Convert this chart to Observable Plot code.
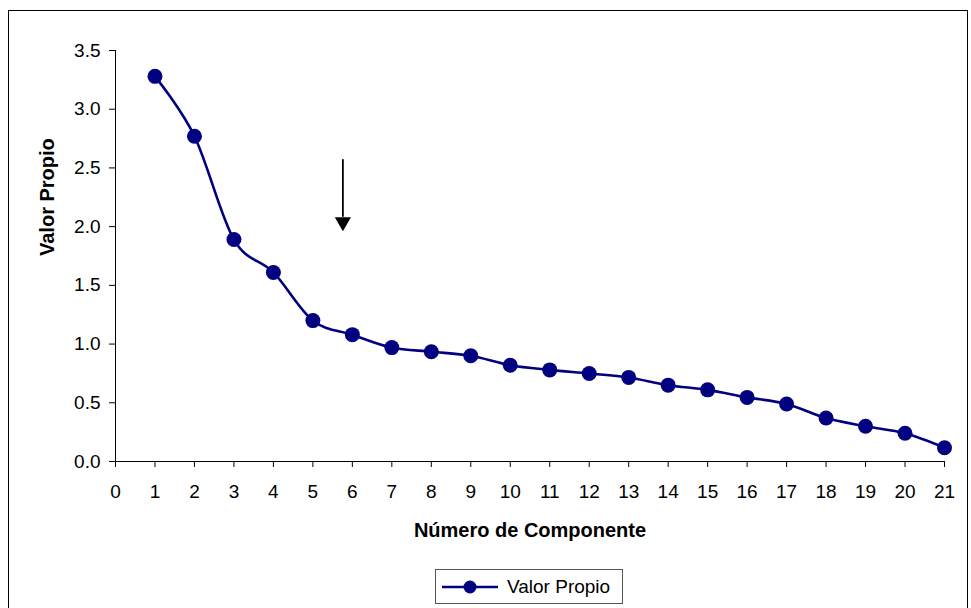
<!DOCTYPE html>
<html>
<head>
<meta charset="utf-8">
<script src="https://cdn.jsdelivr.net/npm/d3@7"></script>
<script src="https://cdn.jsdelivr.net/npm/@observablehq/plot@0.6"></script>
<style>
  html, body { margin: 0; padding: 0; background: #fff; }
  #wrap { position: relative; width: 971px; height: 608px; overflow: hidden; font-family: "Liberation Sans", Arial, sans-serif; }
  #frame { position: absolute; left: 8px; top: 10px; width: 960px; height: 640px; border: 1px solid #000; box-sizing: border-box; }
  #chart { position: absolute; left: 0; top: 0; }
  #legend { position: absolute; left: 435px; top: 569px; width: 188px; height: 35px; border: 1px solid #555; box-sizing: border-box; display: flex; align-items: center; background: #fff; }
  #legend span { font-size: 19px; color: #000; margin-left: 4px; }
</style>
</head>
<body>
<div id="wrap">
  <div id="frame"></div>
  <div id="chart"></div>
  <div id="legend">
    <svg width="62" height="20" style="margin-left:5px"><line x1="1" x2="57" y1="10" y2="10" stroke="#000080" stroke-width="2.5"/><circle cx="29" cy="10" r="6.5" fill="#000080"/></svg>
    <span>Valor Propio</span>
  </div>
</div>
<script>
const components = [1,2,3,4,5,6,7,8,9,10,11,12,13,14,15,16,17,18,19,20,21];
const eigenvalues = [3.28,2.77,1.89,1.61,1.20,1.08,0.97,0.935,0.90,0.82,0.78,0.75,0.716,0.65,0.61,0.546,0.49,0.37,0.30,0.24,0.117];
const xTicks = d3.range(0, 22);
const yTicks = [0,0.5,1.0,1.5,2.0,2.5,3.0,3.5];
const seriesName = "Valor Propio";
const xTitle = "Número de Componente";
const yTitle = "Valor Propio";
// arrow annotation (data coordinates)
const arrowX = [5.76];
const arrowTop = [2.57];
const arrowBase = [2.08];
const arrowHeadCenter = [2.04];

const data = components.map((c, i) => ({c, v: eigenvalues[i]}));
const arrow = arrowX.map((x, i) => ({x, y1: arrowTop[i], y2: arrowBase[i], yh: arrowHeadCenter[i]}));
const navy = "#000080";

const chart = Plot.plot({
  width: 971,
  height: 560,
  marginLeft: 115,
  marginRight: 27,
  marginTop: 50,
  marginBottom: 99,
  style: {fontFamily: "'Liberation Sans', Arial, sans-serif", fontSize: "19px", color: "#000", background: "transparent"},
  x: {domain: [0, 21], ticks: xTicks, label: null},
  y: {domain: [0, 3.5], ticks: yTicks, label: null},
  marks: [
    Plot.axisY({ticks: yTicks, tickFormat: d3.format(".1f"), tickSize: 6, tickPadding: 9, label: null, stroke: "#000", fontSize: 19}),
    Plot.axisX({ticks: xTicks, tickFormat: d3.format("d"), tickSize: 6, tickPadding: 17, label: null, stroke: "#000", fontSize: 19}),
    Plot.ruleX([0], {y1: 0, y2: 3.5, stroke: "#000"}),
    Plot.ruleY([0], {x1: 0, x2: 21, stroke: "#000"}),
    Plot.line(data, {x: "c", y: "v", stroke: navy, strokeWidth: 2.6, curve: "cardinal"}),
    Plot.dot(data, {x: "c", y: "v", r: 7.5, fill: navy, stroke: "none"}),
    Plot.ruleX(arrow, {x: "x", y1: "y1", y2: "y2", stroke: "#000", strokeWidth: 1.8}),
    Plot.dot(arrow, {x: "x", y: "yh", symbol: "triangle", rotate: 180, r: 6, fill: "#000", stroke: "none"}),
    Plot.text([yTitle], {frameAnchor: "left", dx: -68, rotate: -90, fontWeight: "bold", fontSize: 20, fill: "#000", lineAnchor: "middle"}),
    Plot.text([xTitle], {frameAnchor: "bottom", dy: 61, lineAnchor: "top", fontWeight: "bold", fontSize: 20, fill: "#000"})
  ]
});
document.getElementById("chart").appendChild(chart);
</script>
</body>
</html>
